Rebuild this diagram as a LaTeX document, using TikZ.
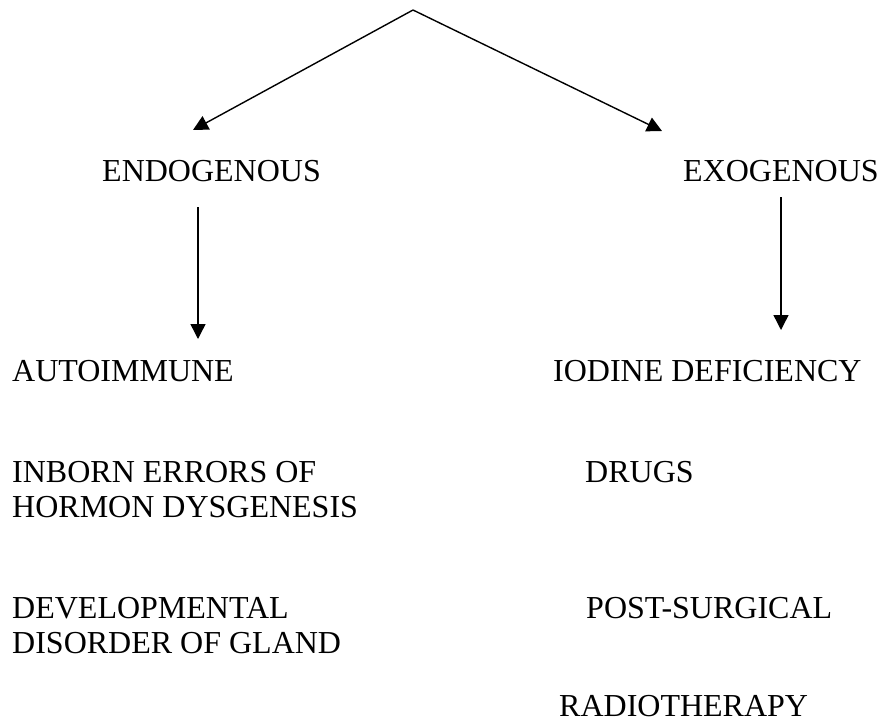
\documentclass[tikz,border=0pt]{standalone}
\usepackage{fontspec}
\setmainfont{Liberation Serif}
\usetikzlibrary{arrows.meta, positioning}

\begin{document}
\begin{tikzpicture}[x=1pt, y=-1pt,
    lbl/.style={anchor=base west, inner sep=0pt, align=left,
                font=\fontsize{32}{35}\selectfont},
    arr/.style={line width=1.4pt, -{Triangle[length=15pt,width=15pt]}}]
        \useasboundingbox (0,0) rectangle (896,724);

        % Hai nhóm nguyên nhân
        \node[lbl] (endo) at (102,181) {ENDOGENOUS};
        \node[lbl] (exo)  at (683,181) {EXOGENOUS};

        % Nội sinh (dòng cuối đặt ở đường cơ sở)
        \node[lbl] (auto)   at (12,381) {AUTOIMMUNE};
        \node[lbl] (inborn) at (12,517) {INBORN ERRORS OF\\HORMON DYSGENESIS};
        \node[lbl] (devel)  at (12,653) {DEVELOPMENTAL\\DISORDER OF GLAND};

        % Ngoại sinh
        \node[lbl] (iodine) at (553,381) {IODINE DEFICIENCY};
        \node[lbl] (drugs)  at (585,482) {DRUGS};
        \node[lbl] (post)   at (586,618) {POST-SURGICAL};
        \node[lbl] (radio)  at (559,716) {RADIOTHERAPY};

        % Điểm đầu, cuối mũi tên
        \coordinate (top)      at (413,10);
        \coordinate (endoin)   at (193,130);
        \coordinate (exoin)    at (662,131);
        \coordinate (endoout)  at (198,207);
        \coordinate (autoin)   at (198,339);
        \coordinate (exoout)   at (781,197);
        \coordinate (iodinein) at (781,330);

        % Mũi tên
        \draw[arr] (top) -- (endoin);
        \draw[arr] (top) -- (exoin);
        \draw[arr] (endoout) -- (autoin);
        \draw[arr] (exoout) -- (iodinein);
      \end{tikzpicture}
\end{document}
